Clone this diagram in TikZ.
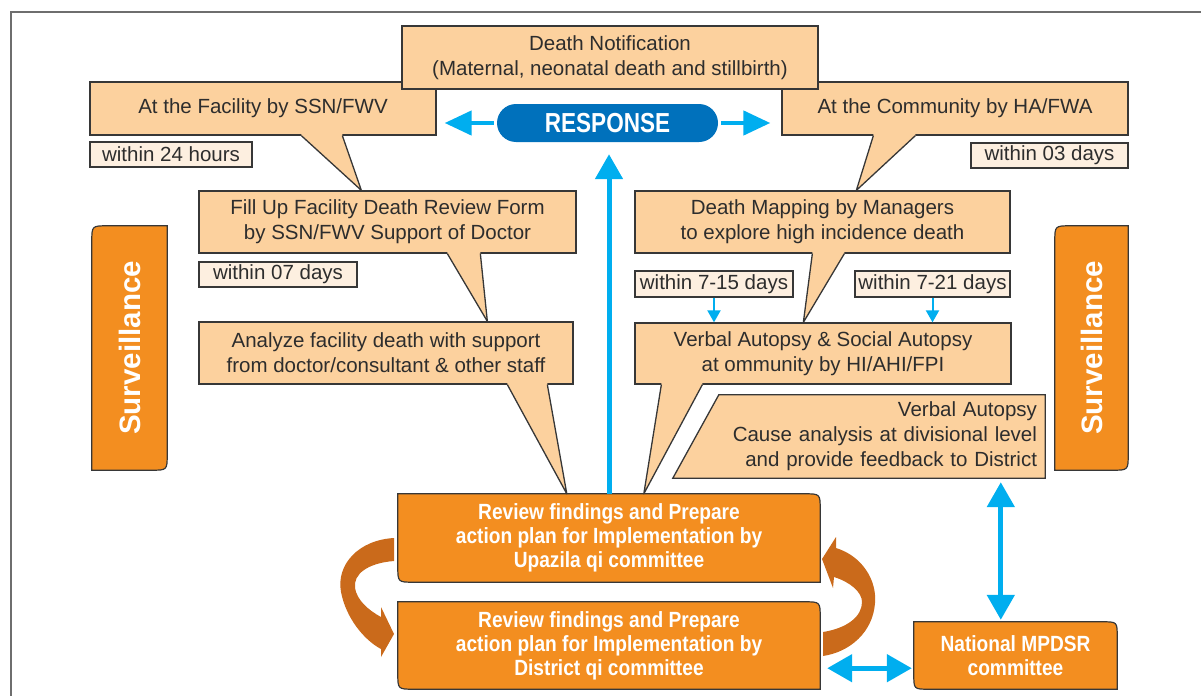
\documentclass[tikz,border=0pt]{standalone}
\usepackage{fontspec}
\setmainfont{Liberation Sans}
\newfontfamily\condfont[FakeStretch=0.87]{Liberation Sans}
\newfontfamily\respfont[FakeStretch=0.82]{Liberation Sans}
\usetikzlibrary{calc,arrows.meta,backgrounds}
\definecolor{peach}{RGB}{252,209,158}
\definecolor{pale}{RGB}{253,239,224}
\definecolor{edge}{RGB}{55,55,55}
\definecolor{txt}{RGB}{45,45,45}
\definecolor{orng}{RGB}{243,142,32}
\definecolor{brwn}{RGB}{202,106,27}
\definecolor{blu}{RGB}{0,174,239}
\definecolor{dblu}{RGB}{0,113,188}
\definecolor{framec}{RGB}{110,110,110}
\tikzset{
  box/.style={rectangle, inner sep=0pt, fill=peach, draw=edge, line width=1.3pt, text=txt, align=center, font=\fontsize{20.5}{25}\selectfont},
  tag/.style={rectangle, inner sep=0pt, fill=pale, draw=edge, line width=1.2pt, text=txt, font=\fontsize{20.5}{24.5}\selectfont},
  obox/.style={rectangle, inner sep=0pt, text=white, align=center, font=\condfont\bfseries\fontsize{22}{24}\selectfont},
  survtext/.style={text=white, font=\bfseries\fontsize{29.5}{30}\selectfont, rotate=90},
  oshape/.style={fill=orng, draw=edge, line width=1.2pt},
  bigarrow/.style={draw=blu, line width=5pt, -{Triangle[width=27pt,length=25pt]}},
  bigdbl/.style={draw=blu, line width=5pt, {Triangle[width=27pt,length=25pt]}-{Triangle[width=27pt,length=25pt]}},
  medarrow/.style={draw=blu, line width=4.5pt, -{Triangle[width=24pt,length=27pt]}},
  smallarrow/.style={draw=blu, line width=2pt, -{Triangle[width=13pt,length=12pt]}},
  bentarrow/.style={fill=brwn},
}
% callout tail: from node #1 (offsets #2,#3 from its south west) to node #4 (offset #5 from its north west)
\newcommand\calltail[5]{%
  \fill[peach] ($(#1.south west)+(#2,-2)$) -- ($(#1.south west)+(#2,0)$) -- ($(#4.north west)+(#5,0)$) -- ($(#1.south west)+(#3,0)$) -- ($(#1.south west)+(#3,-2)$) -- cycle;
  \draw[edge, line width=1.3pt, line join=round] ($(#1.south west)+(#2,0)$) -- ($(#4.north west)+(#5,0)$) -- ($(#1.south west)+(#3,0)$);}
% orange box: top-right and bottom-left rounded
\newcommand\orshape[2]{%
  \path[oshape] (#1.north west) -- ($(#1.north east)+(-#2,0)$) .. controls (#1.north east) .. ($(#1.north east)+(0,#2)$) -- (#1.south east) -- ($(#1.south west)+(#2,0)$) .. controls (#1.south west) .. ($(#1.south west)+(0,-#2)$) -- cycle;}
% surveillance box: top-left and bottom-right rounded
\newcommand\svshape[2]{%
  \path[oshape] ($(#1.north west)+(0,#2)$) .. controls (#1.north west) .. ($(#1.north west)+(#2,0)$) -- (#1.north east) -- ($(#1.south east)+(0,-#2)$) .. controls (#1.south east) .. ($(#1.south east)+(-#2,0)$) -- (#1.south west) -- cycle;}
\begin{document}
\begin{tikzpicture}[x=1pt,y=-1pt]
\useasboundingbox (0,0) rectangle (1201,696);

% top row
\node[box, minimum width=346pt, minimum height=53pt] (fac) at (263,108.5) {At the Facility by SSN/FWV};
\node[box, minimum width=346pt, minimum height=53pt] (comm) at (955,108.5) {At the Community by HA/FWA};
\node[box, minimum width=416pt, minimum height=63pt] (notif) at (610,57.5) {Death Notification\\(Maternal, neonatal death and stillbirth)};
\node[tag, minimum width=162pt, minimum height=25pt] (w24) at (171,154.5) {within 24 hours};
\node[tag, minimum width=157pt, minimum height=25pt] (w03) at (1049.5,155.5) {within 03 days};
\node[fill=dblu, rounded corners=19pt, minimum width=221pt, minimum height=38pt, inner sep=0pt, text=white, font=\respfont\bfseries\fontsize{27.5}{28}\selectfont] (resp) at (607.5,123) {RESPONSE};

% second row
\node[box, minimum width=377pt, minimum height=62pt] (fill) at (387.5,222) {Fill Up Facility Death Review Form\\by SSN/FWV Support of Doctor};
\node[tag, minimum width=158pt, minimum height=25pt] (w07) at (278,274.5) {within 07 days};
\node[box, minimum width=375pt, minimum height=62pt] (map) at (822.5,222) {Death Mapping by Managers\\to explore high incidence death};
\node[tag, minimum width=158pt, minimum height=26pt] (w715) at (714,284) {within 7-15 days};
\node[tag, minimum width=155pt, minimum height=26pt] (w721) at (932.5,284) {within 7-21 days};

% third row
\node[box, minimum width=374pt, minimum height=62pt] (anal) at (386,353) {Analyze facility death with support\\from doctor/consultant \& other staff};
\node[box, minimum width=376pt, minimum height=61pt] (verbal) at (823,353.5) {Verbal Autopsy \& Social Autopsy\\at ommunity by HI/AHI/FPI};
\node[rectangle, inner xsep=8pt, inner ysep=0pt, text width=356pt, minimum height=83pt, align=right, text=txt, font=\fontsize{20.5}{25}\selectfont] (cause) at (859,436.5) {Verbal Autopsy\\Cause analysis at divisional level\\and provide feedback to District};

% orange boxes
\node[obox, minimum width=422pt, minimum height=88pt] (upz) at (609,538) {Review findings and Prepare\\action plan for Implementation by\\Upazila qi committee};
\node[obox, minimum width=422pt, minimum height=87pt] (dist) at (609,645.5) {Review findings and Prepare\\action plan for Implementation by\\District qi committee};
\node[obox, minimum width=203pt, minimum height=67pt] (nat) at (1015.5,655.5) {National MPDSR\\committee};
\node[rectangle, inner sep=0pt, minimum width=75pt, minimum height=244pt] (sl) at (129.5,348) {};
\node[survtext] (slt) at (sl.center) {Surveillance};
\node[rectangle, inner sep=0pt, minimum width=73pt, minimum height=244pt] (sr) at (1091.5,348) {};
\node[survtext] (srt) at (sr.center) {Surveillance};

\begin{scope}[on background layer]
  \draw[framec, line width=2.5pt] (1201,12) -- (11,12) -- (11,696);
  \orshape{upz}{16}
  \orshape{dist}{16}
  \orshape{nat}{15}
  \svshape{sl}{16}
  \svshape{sr}{16}
  \path[fill=peach, draw=edge, line width=1.3pt] ($(cause.north west)+(46,0)$) -- (cause.north east) -- (cause.south east) -- (cause.south west) -- cycle;
\end{scope}

% callout tails
\calltail{fac}{212}{253}{fill}{163}
\calltail{comm}{92}{134}{map}{222}
\calltail{fill}{249}{282}{anal}{289}
\calltail{map}{178}{210}{verbal}{169}
\calltail{anal}{309}{349}{upz}{169}
\calltail{verbal}{27}{68}{upz}{246}

% blue arrows
\draw[bigarrow, shorten >=12pt] (upz.north) -- (upz.north |- resp.south);
\draw[medarrow, shorten <=3pt, shorten >=8pt] (resp.west) -- (resp.west -| fac.east);
\draw[medarrow, shorten <=3pt, shorten >=11pt] (resp.east) -- (resp.east -| comm.west);
\draw[smallarrow] (w715.south) -- (w715.south |- verbal.north);
\draw[smallarrow] (w721.south) -- (w721.south |- verbal.north);
\coordinate (vd) at ($(nat.north west)+(87,0)$);
\draw[bigdbl, shorten <=2pt, shorten >=4pt] (vd) -- (vd |- cause.south);
\coordinate (hd) at ($(nat.south west)+(0,-21)$);
\draw[bigdbl, shorten <=2pt, shorten >=7pt] (hd) -- (hd -| dist.east);

% brown circular arrows
\fill[bentarrow] (394,538) .. controls (358,540) and (336,565) .. (341,592) .. controls (346,618) and (364,640) .. (381,649) -- (381,657) -- (394,634) -- (381,607) -- (381,617) .. controls (368,610) and (357,600) .. (355,588) .. controls (353,574) and (368,563) .. (394,561) -- cycle;
\fill[bentarrow] (823,632) .. controls (848,628) and (862,616) .. (862,602) .. controls (862,592) and (850,582) .. (834,577) -- (833,588) -- (822,559) -- (836,537) -- (836,548) .. controls (862,556) and (877,580) .. (875,603) .. controls (873,632) and (850,652) .. (823,656) -- cycle;
\end{tikzpicture}
\end{document}
